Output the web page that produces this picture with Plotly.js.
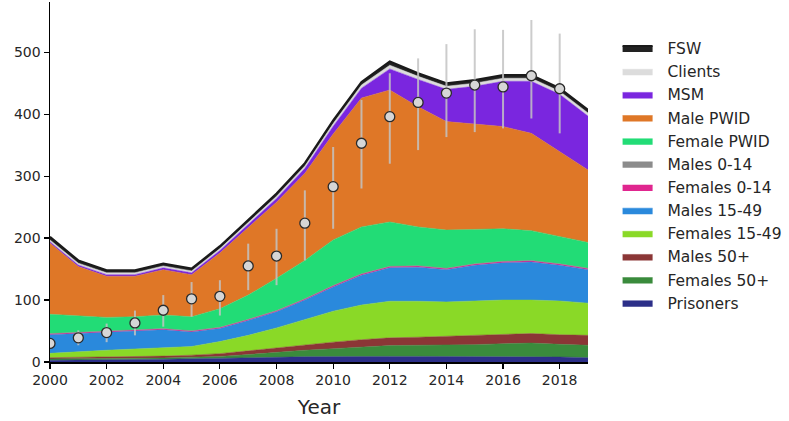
<!DOCTYPE html>
<html>
<head>
<meta charset="utf-8">
<script src="https://cdn.plot.ly/plotly-3.0.1.min.js"></script>
<style>html,body{margin:0;padding:0;background:#fff;}#chart{width:789px;height:421px;}</style>
</head>
<body>
<div id="chart"></div>
<script>
const years = [2000,2001,2002,2003,2004,2005,2006,2007,2008,2009,2010,2011,2012,2013,2014,2015,2016,2017,2018,2019];

// Layer values (stacked bottom -> top)
const prisoners   = [3,3,3.5,4,4.5,5,5.5,6.5,7.5,8.5,9,9,9,9,9,9,9,8.5,8,7];
const females50   = [2,2,2,2,2,2.5,3.5,5.5,8.5,10.5,12.5,15,17.5,18,18,19,20.5,22,20.5,20];
const males50     = [2,2.5,2.5,2.5,3,3.5,4.5,6,7,9,10.5,12,12.5,13,14.5,15,15,15.5,15.5,16];
const females1549 = [7,9.5,11,12.5,13.5,14,19.5,25,32,41,50,56,59,58,55.5,55.5,55.5,54,54.5,52];
const males1549   = [30,29,29,29,29,23.5,21,24,26,31,39,48,54,55,52,57.5,60,61.5,57.5,54];
const females014  = [1.5,1.5,1.5,1.5,1.5,1.5,1.5,1.5,1.5,1.5,2,2,2,2,2,2,2,2,2,2];
const males014    = [0.5,0.5,0.5,0.5,0.5,0.5,0.5,0.5,0.5,0.5,0.5,0.5,0.5,0.5,0.5,0.5,0.5,0.5,0.5,0.5];
const femalePWID  = [31,26,22,21,22,22.5,30,39,52,62,73.5,75.5,71.5,62.5,61.5,55.5,52.5,48,43.5,41.5];
const malePWID    = [115,80,66.5,65.5,73,68,90,109,123,140.5,171,208,213,194,175,170,165,157,137,117];
const msm         = [2,2.5,2.5,2.5,3,3,4,5,6,8,12.5,16,34,44,52,61,73,84,93,87];
const clients     = [3,3,3,3,3,3,3,3,3.5,4,4.5,5,6,5,5,5,5,5,5,5];
const fsw         = [5,4.5,4,4,4,4,4,4,4.5,4.5,5,5,6,5,5,5,5,5,5,5];

// Observed data points with ranges
const obsValue = [30,39,47.5,63,83.5,102,106,155,171,224,283,353,396,419,434,447,444,462,441];
const obsLow   = [26,27,32,43,57,73,75,116,124,164,215,280,320,342,363,371,377,393,369];
const obsHigh  = [35,51,62,83,108,129,132,191,215,277,347,423,466,490,513,537,536,552,530];
const obsYears = [2000,2001,2002,2003,2004,2005,2006,2007,2008,2009,2010,2011,2012,2013,2014,2015,2016,2017,2018];

const layers = [
  {name:'Prisoners', y:prisoners, c:'#2c2f88'},
  {name:'Females 50+', y:females50, c:'#3a8b3c'},
  {name:'Males 50+', y:males50, c:'#8b3636'},
  {name:'Females 15-49', y:females1549, c:'#8ad927'},
  {name:'Males 15-49', y:males1549, c:'#2a89dc'},
  {name:'Females 0-14', y:females014, c:'#e0268f'},
  {name:'Males 0-14', y:males014, c:'#8c8c8c'},
  {name:'Female PWID', y:femalePWID, c:'#22dc76'},
  {name:'Male PWID', y:malePWID, c:'#df7727'},
  {name:'MSM', y:msm, c:'#7a26df'},
  {name:'Clients', y:clients, c:'#dcdcdc'},
  {name:'FSW', y:fsw, c:'#222222'}
];

const traces = layers.map(l => ({
  type:'scatter', mode:'lines', x:years, y:l.y, name:'\u00a0\u00a0' + l.name,
  stackgroup:'one', fillcolor:l.c,
  line:{color: l.name==='FSW' ? '#1a1a1a' : l.c, width: l.name==='FSW' ? 2 : 0.5, shape:'linear'},
  hoverinfo:'skip'
}));

traces.push({
  type:'scatter', mode:'markers', x:obsYears, y:obsValue, showlegend:false,
  marker:{size:10, color:'#d6d6d6', line:{color:'#2a2a2a', width:1.3}},
  error_y:{type:'data', symmetric:false,
    array: obsHigh.map((h,i)=>h-obsValue[i]),
    arrayminus: obsLow.map((lo,i)=>obsValue[i]-lo),
    color:'rgba(195,195,195,0.85)', thickness:2, width:0},
  hoverinfo:'skip'
});

const layout = {
  width:789, height:421,
  margin:{l:50, r:201, t:2, b:59},
  paper_bgcolor:'#fff', plot_bgcolor:'#fff',
  font:{family:'DejaVu Sans', color:'#262626', size:14},
  showlegend:true,
  legend:{traceorder:'reversed', x:1.055, xanchor:'left', y:0.918, yanchor:'top',
    font:{size:15.5, family:'DejaVu Sans', color:'#262626'}, bgcolor:'rgba(0,0,0,0)', itemwidth:30},
  xaxis:{range:[2000,2019], tickmode:'array', tickvals:[2000,2002,2004,2006,2008,2010,2012,2014,2016,2018],
    showgrid:false, zeroline:false, showline:true, linecolor:'#000', linewidth:1.5,
    ticks:'outside', ticklen:5, tickwidth:1.2, tickcolor:'#000',
    tickfont:{size:14}, title:{text:'Year', font:{size:20}, standoff:12}},
  yaxis:{range:[0,581], tickmode:'array', tickvals:[0,100,200,300,400,500],
    showgrid:false, zeroline:false, showline:true, linecolor:'#000', linewidth:1.5,
    ticks:'outside', ticklen:5, tickwidth:1.2, tickcolor:'#000', tickfont:{size:14}}
};

Plotly.newPlot('chart', traces, layout, {displayModeBar:false, staticPlot:true});
</script>
</body>
</html>
